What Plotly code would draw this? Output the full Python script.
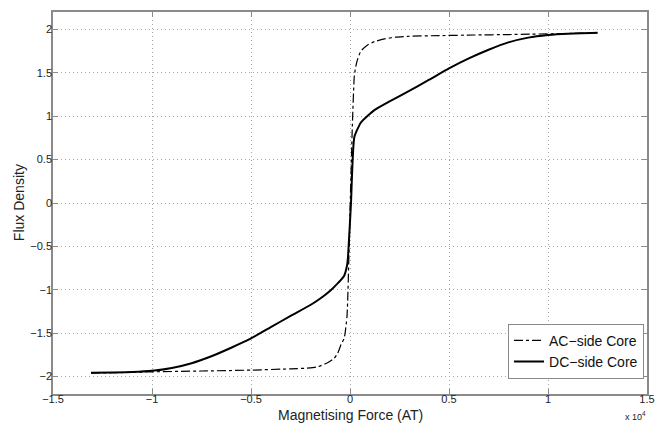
import plotly.graph_objects as go

# Magnetising force in AT, flux density
ac_x = [-13080, -12000, -10000, -7500, -5000, -3000, -2000, -1600, -1130, -800, -620, -450, -290, -150, 0, 120, 220, 300, 390, 550, 890, 1250, 1730, 2300, 2900, 4500, 6300, 8000, 9140, 11000, 12500]
ac_y = [-1.96, -1.955, -1.945, -1.935, -1.925, -1.91, -1.90, -1.885, -1.84, -1.79, -1.73, -1.63, -1.555, -1.30, -0.10, 0.90, 1.47, 1.58, 1.66, 1.75, 1.82, 1.86, 1.89, 1.91, 1.92, 1.928, 1.935, 1.94, 1.945, 1.952, 1.96]

dc_x = [-13080, -12000, -11000, -10000, -9000, -8000, -7000, -6000, -5000, -4000, -3000, -2000, -1500, -1000, -600, -300, -150, -100, 50, 220, 560, 1230, 2000, 2900, 4000, 5000, 6000, 7000, 8000, 9000, 10000, 11000, 12500]
dc_y = [-1.955, -1.952, -1.947, -1.933, -1.90, -1.845, -1.765, -1.667, -1.56, -1.43, -1.30, -1.175, -1.10, -1.01, -0.92, -0.84, -0.72, -0.62, 0.0, 0.76, 0.93, 1.07, 1.17, 1.28, 1.42, 1.55, 1.665, 1.765, 1.85, 1.905, 1.935, 1.95, 1.96]

x_ticks = [-15000, -10000, -5000, 0, 5000, 10000, 15000]
x_tick_labels = ["\u22121.5", "\u22121", "\u22120.5", "0", "0.5", "1", "1.5"]
y_ticks = [-2, -1.5, -1, -0.5, 0, 0.5, 1, 1.5, 2]
y_tick_labels = ["\u22122", "\u22121.5", "\u22121", "\u22120.5", "0", "0.5", "1", "1.5", "2"]

FONT = "Liberation Sans, Arial, Helvetica, sans-serif"

fig = go.Figure()
fig.add_trace(go.Scatter(x=ac_x, y=ac_y, mode="lines", name="AC\u2212side Core",
                         line=dict(color="black", width=1.2, dash="dashdot", shape="spline", smoothing=0.5)))
fig.add_trace(go.Scatter(x=dc_x, y=dc_y, mode="lines", name="DC\u2212side Core",
                         line=dict(color="black", width=2, shape="spline", smoothing=0.5)))

axis_common = dict(showgrid=True, gridcolor="#a8a8a8", griddash="1px,3px", gridwidth=1,
                   zeroline=False, showline=True, linecolor="#8a8a8a", linewidth=1.5,
                   mirror="ticks", ticks="inside", ticklen=5, tickcolor="#8a8a8a",
                   automargin=False, tickfont=dict(family=FONT, size=11, color="#222"))

fig.update_xaxes(range=[-15000, 15000], tickvals=x_ticks, ticktext=x_tick_labels,
                 ticklabelstandoff=-6, **axis_common)
fig.update_yaxes(range=[-2.2, 2.2], tickvals=y_ticks, ticktext=y_tick_labels,
                 ticklabelstandoff=-3, **axis_common)

fig.add_annotation(text="Magnetising Force (AT)", xref="paper", yref="paper", x=0.5, y=-0.054,
                   xanchor="center", yanchor="middle", showarrow=False,
                   font=dict(family=FONT, size=14, color="#222"))
fig.add_annotation(text="Flux Density", xref="paper", yref="paper", x=-0.057, y=0.5,
                   xanchor="center", yanchor="middle", textangle=-90, showarrow=False,
                   font=dict(family=FONT, size=14, color="#222"))
fig.add_annotation(text="x 10<sup>4</sup>", xref="paper", yref="paper", x=1.002, y=-0.057,
                   xanchor="right", yanchor="middle", showarrow=False,
                   font=dict(family=FONT, size=9, color="#222"))

fig.update_layout(
    width=663, height=423,
    margin=dict(l=53, r=16, t=12, b=29),
    plot_bgcolor="white", paper_bgcolor="white",
    font=dict(family=FONT, size=12, color="#222"),
    legend=dict(x=0.995, y=0.04, xanchor="right", yanchor="bottom",
                bgcolor="white", bordercolor="#8a8a8a", borderwidth=1,
                font=dict(family=FONT, size=14, color="#111"), tracegroupgap=0),
    showlegend=True,
)

fig.write_html("out.html", config={"displayModeBar": False},
               post_script="document.body.style.margin='0';document.body.style.overflow='hidden';")
